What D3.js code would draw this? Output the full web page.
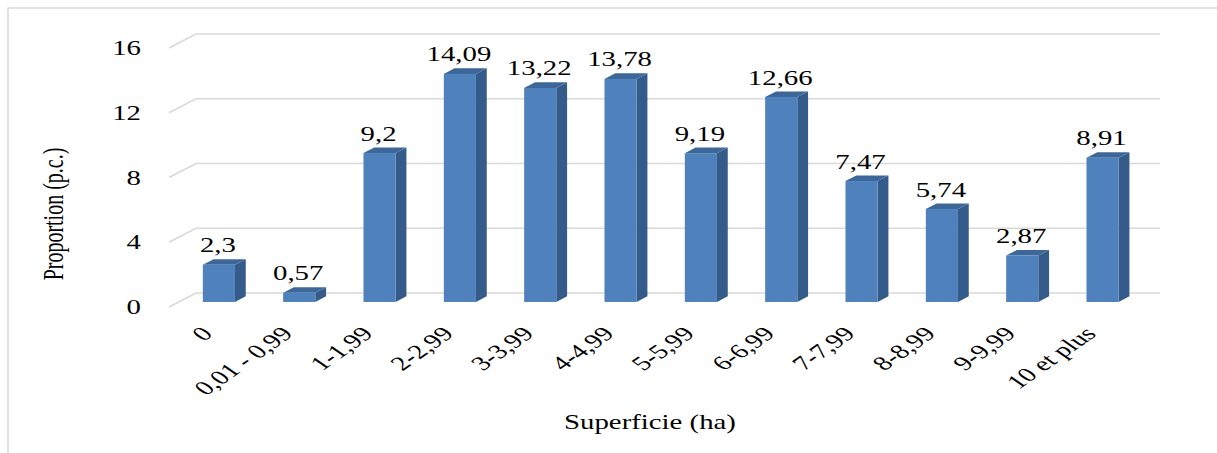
<!DOCTYPE html>
<html>
<head>
<meta charset="utf-8">
<script src="https://cdn.jsdelivr.net/npm/d3@7"></script>
<style>
  html, body { margin: 0; padding: 0; background: #fff; }
  svg { display: block; }
  text { font-family: "Liberation Serif", "Times New Roman", serif; fill: #000; }
</style>
</head>
<body>
<div id="chart"></div>
<script>
const categories = ["0", "0,01 - 0,99", "1-1,99", "2-2,99", "3-3,99", "4-4,99",
  "5-5,99", "6-6,99", "7-7,99", "8-8,99", "9-9,99", "10 et plus"];
const values = [2.3, 0.57, 9.2, 14.09, 13.22, 13.78, 9.19, 12.66, 7.47, 5.74, 2.87, 8.91];
const valueLabels = ["2,3", "0,57", "9,2", "14,09", "13,22", "13,78", "9,19", "12,66", "7,47", "5,74", "2,87", "8,91"];
const yTicks = [0, 4, 8, 12, 16];

const width = 1217, height = 453;
const stretch = 1.44; // text in the picture is wider than tall
const depth = { dx: 27, dy: -14 }; // 3d depth of the plot floor
const barFront = 0.36, barBack = 0.76; // bar faces, as a fraction of depth

const svg = d3.select("#chart").append("svg")
  .attr("width", width)
  .attr("height", height);

// outer frame
svg.append("path")
  .attr("d", `M8,${height + 2}V8H${width + 2}`)
  .attr("fill", "none")
  .attr("stroke", "#d9d9d9")
  .attr("stroke-width", 1.5);

const x = d3.scaleBand()
  .domain(categories)
  .range([169, 1133])
  .paddingInner(0)
  .paddingOuter(0);

const y = d3.scaleLinear()
  .domain([0, 16])
  .range([307, 48]);

// gridlines (front diagonal + back wall)
const grid = svg.append("g");
yTicks.forEach((t) => {
  const y0 = y(t);
  grid.append("path")
    .attr("d", `M${x.range()[0]},${y0}L${x.range()[0] + depth.dx},${y0 + depth.dy}H${x.range()[1] + depth.dx}`)
    .attr("fill", "none")
    .attr("stroke", "#d9d9d9")
    .attr("stroke-width", 1.5);
});

// y tick labels
svg.append("g")
  .selectAll("text")
  .data(yTicks)
  .join("text")
  .attr("text-anchor", "end")
  .attr("font-size", 20)
  .attr("transform", (d) => `translate(141,${y(d) + 7}) scale(${stretch},1)`)
  .text((d) => d);

// bars
const barW = x.bandwidth() * 0.4;
const bars = svg.append("g")
  .selectAll("g")
  .data(values)
  .join("g");

const fx = (i) => x(categories[i]) + x.bandwidth() / 2 - barW / 2 + barFront * depth.dx;
const fdy = barFront * depth.dy;
const sx = (barBack - barFront) * depth.dx;
const sy = (barBack - barFront) * depth.dy;

bars.append("path") // side
  .attr("d", (d, i) => {
    const x1 = fx(i) + barW, yb = y(0) + fdy, yt = y(d) + fdy;
    return `M${x1},${yb}L${x1 + sx},${yb + sy}L${x1 + sx},${yt + sy}L${x1},${yt}Z`;
  })
  .attr("fill", "#345b8a");

bars.append("path") // top
  .attr("d", (d, i) => {
    const x0 = fx(i), yt = y(d) + fdy;
    return `M${x0},${yt}L${x0 + sx},${yt + sy}L${x0 + barW + sx},${yt + sy}L${x0 + barW},${yt}Z`;
  })
  .attr("fill", "#3d6799");

bars.append("rect") // front
  .attr("x", (d, i) => fx(i))
  .attr("y", (d) => y(d) + fdy)
  .attr("width", barW)
  .attr("height", (d) => y(0) - y(d))
  .attr("fill", "#4f81bd");

// value labels
bars.append("text")
  .attr("text-anchor", "middle")
  .attr("font-size", 20)
  .attr("transform", (d, i) => `translate(${fx(i) + barW / 2 - 1},${y(d) + fdy - 12.5}) scale(${stretch},1)`)
  .text((d, i) => valueLabels[i]);

// category labels
svg.append("g")
  .selectAll("text")
  .data(categories)
  .join("text")
  .attr("text-anchor", "end")
  .attr("font-size", 20)
  .attr("transform", (d) => `translate(${x(d) + x.bandwidth() / 2 + barFront * depth.dx - 5},335) scale(${stretch},1) rotate(-45)`)
  .text((d) => d);

// axis titles
svg.append("text")
  .attr("text-anchor", "middle")
  .attr("font-size", 20)
  .attr("transform", `translate(650,429) scale(${stretch},1)`)
  .text("Superficie (ha)");

svg.append("text")
  .attr("text-anchor", "middle")
  .attr("font-size", 20)
  .attr("transform", `translate(63,214) scale(${stretch},1) rotate(-90)`)
  .text("Proportion (p.c.)");
</script>
</body>
</html>
